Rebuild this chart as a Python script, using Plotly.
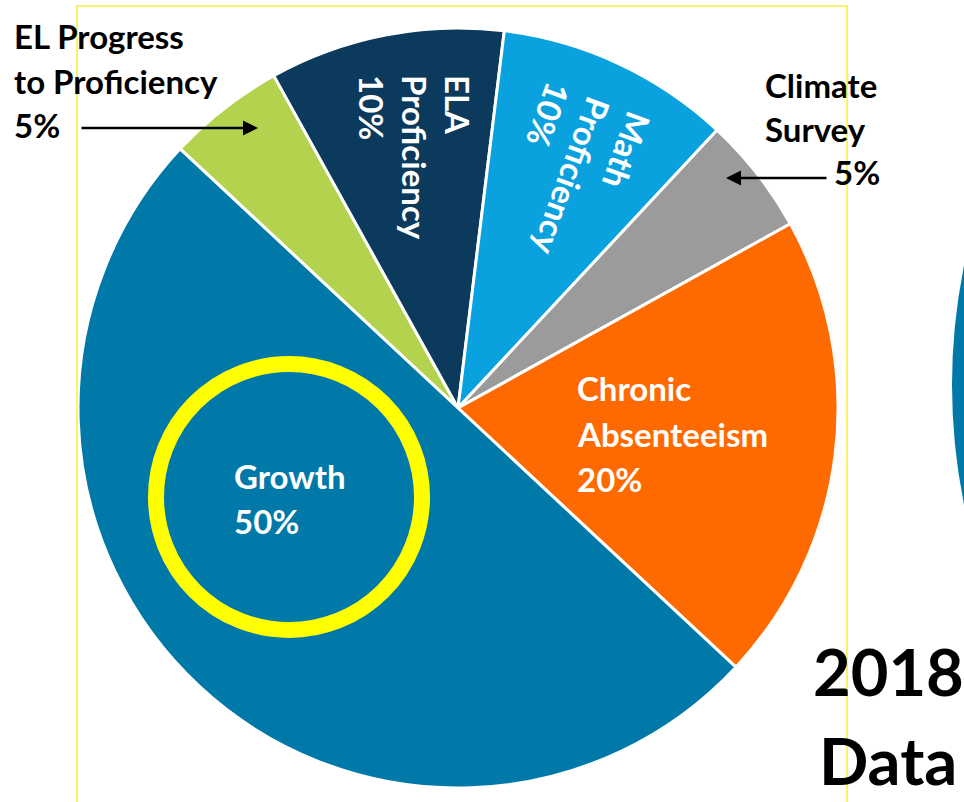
import plotly.graph_objects as go

W, H = 964, 802

# ---- data ----
categories = ["EL Progress to Proficiency", "ELA Proficiency", "Math Proficiency",
              "Climate Survey", "Chronic Absenteeism", "Growth"]
weights = [5, 10, 10, 5, 20, 50]
colors = ["#B3D34F", "#0B3A5C", "#0AA2DE", "#9B9B9B", "#FF6A00", "#0079A8"]


def px(x):
    return x / W


def py(y):
    return 1 - y / H


FONT = "Lato"
fig = go.Figure()
fig.add_trace(go.Pie(
    labels=categories, values=weights, sort=False, direction="clockwise",
    rotation=-47, textinfo="none", hoverinfo="skip", showlegend=False,
    marker=dict(colors=colors, line=dict(color="white", width=3)),
    domain=dict(x=[px(78), px(838)], y=[py(788), py(28)]),
))

annotations = []


def txt(text, x, y, color, size=33, xanchor="left", angle=0, align="left"):
    annotations.append(dict(
        text=text, x=px(x), y=py(y), xref="paper", yref="paper",
        xanchor=xanchor, yanchor="middle", showarrow=False, textangle=angle,
        align=align, font=dict(family=FONT, size=size, color=color, weight="bold"),
    ))


# EL Progress label
txt("EL Progress", 12, 36, "black")
txt("to Proficiency", 12, 81, "black")
txt("5%", 12, 125, "black")
# Climate label
txt("Climate", 763, 85, "black")
txt("Survey", 763, 129, "black")
txt("5%", 882, 172, "black", xanchor="right")
# inside labels
txt("Growth", 232, 476, "white")
txt("50%", 232, 521, "white")
txt("Chronic", 575, 388, "white")
txt("Absenteeism", 575, 434, "white")
txt("20%", 575, 479, "white")
txt("ELA<br>Proficiency<br>10%", 415, 157, "white", xanchor="center", angle=90)
txt("Math<br>Proficiency<br>10%", 572, 176, "white", xanchor="center", angle=110)
# 2018 Data
txt("2018", 888, 671, "black", size=65, xanchor="center")
txt("Data", 888, 760, "black", size=65, xanchor="center")

# arrows
for (x, y, dx) in [(258, 128, -178), (726, 178, 102)]:
    annotations.append(dict(
        text="", x=px(x), y=py(y), xref="paper", yref="paper",
        showarrow=True, ax=dx, ay=0, axref="pixel", ayref="pixel",
        arrowhead=2, arrowsize=1.2, arrowwidth=2.5, arrowcolor="black",
    ))

shapes = [
    # yellow frame
    dict(type="rect", xref="paper", yref="paper", x0=px(77), x1=px(847),
         y0=py(812), y1=py(6), line=dict(color="#F6F03A", width=1.5), layer="above"),
    # yellow highlight circle around Growth
    dict(type="circle", xref="paper", yref="paper", x0=px(156), x1=px(422),
         y0=py(630), y1=py(364), line=dict(color="#FFFF00", width=16), layer="above"),
    # partial next pie at right edge
    dict(type="circle", xref="paper", yref="paper", x0=px(952), x1=px(2152),
         y0=py(985), y1=py(-215), fillcolor="#0079A8", line=dict(width=0), layer="below"),
]

fig.update_layout(
    width=W, height=H, margin=dict(l=0, r=0, t=0, b=0),
    paper_bgcolor="white", plot_bgcolor="white",
    annotations=annotations, shapes=shapes,
    xaxis=dict(visible=False), yaxis=dict(visible=False),
)
fig.write_html("out.html")
